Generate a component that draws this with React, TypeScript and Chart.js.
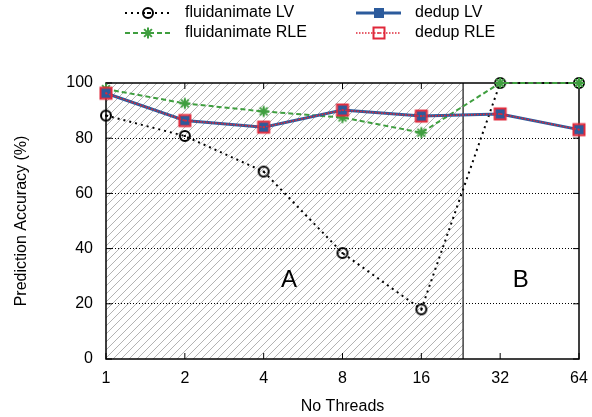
import React, { useEffect, useRef } from 'react';
import { Chart, registerables } from 'chart.js';

Chart.register(...registerables);

const threadCounts = ['1', '2', '4', '8', '16', '32', '64'];
const fluidanimateLV = [88.2, 80.8, 67.9, 38.4, 18.0, 100, 100];
const fluidanimateRLE = [97.8, 92.6, 89.7, 87.5, 82.0, 100, 100];
const dedupLV = [96.3, 86.4, 84.0, 90.2, 88.0, 88.8, 83.1];
const dedupRLE = [96.3, 86.4, 84.0, 90.2, 88.0, 88.8, 83.1];
const seriesNames = ['fluidanimate LV', 'fluidanimate RLE', 'dedup LV', 'dedup RLE'];
const yTickValues = [0, 20, 40, 60, 80, 100];
const regionSplitIndex = 4.53;
const regionNames = ['A', 'B'];
const regionLabelIndex = [2.32, 5.26];
const regionLabelValue = 28.5;
const xTitle = 'No Threads';
const yTitle = 'Prediction Accuracy (%)';

const FONT = "'Liberation Sans', Arial, Helvetica, sans-serif";
const BLACK = '#000000';
const GREEN = '#3f9e3f';
const BLUE = '#2c5b9c';
const RED = '#e0283a';

function makeMarker(size: number, draw: (c: CanvasRenderingContext2D, m: number) => void) {
  const cv = document.createElement('canvas');
  cv.width = size;
  cv.height = size;
  const c = cv.getContext('2d')!;
  draw(c, size / 2);
  return cv;
}

export default function App() {
  const ref = useRef<HTMLCanvasElement | null>(null);

  useEffect(() => {
    document.body.style.margin = '0';
    const canvas = ref.current;
    if (!canvas) return;

    const circleDot = makeMarker(14, (c, m) => {
      c.strokeStyle = BLACK;
      c.lineWidth = 2;
      c.beginPath();
      c.arc(m, m, 5, 0, Math.PI * 2);
      c.stroke();
      c.fillStyle = BLACK;
      c.fillRect(m - 1, m - 1, 2, 2);
    });
    const star = makeMarker(14, (c, m) => {
      c.strokeStyle = GREEN;
      c.lineWidth = 2;
      const r = 5.5;
      const d = r * Math.SQRT1_2;
      c.beginPath();
      c.moveTo(m - r, m); c.lineTo(m + r, m);
      c.moveTo(m, m - r); c.lineTo(m, m + r);
      c.moveTo(m - d, m - d); c.lineTo(m + d, m + d);
      c.moveTo(m - d, m + d); c.lineTo(m + d, m - d);
      c.stroke();
    });
    const blueSquare = makeMarker(12, (c) => {
      c.fillStyle = BLUE;
      c.fillRect(1, 1, 10, 10);
    });
    const redSquare = makeMarker(16, (c, m) => {
      c.strokeStyle = RED;
      c.lineWidth = 2;
      c.strokeRect(2.5, 2.5, 11, 11);
      c.fillStyle = RED;
      c.fillRect(m - 1, m - 0.75, 2, 1.5);
    });
    const markers = [circleDot, star, blueSquare, redSquare];

    const hatchPattern = (ctx: CanvasRenderingContext2D) => {
      const t = document.createElement('canvas');
      const s = 8;
      t.width = s;
      t.height = s;
      const c = t.getContext('2d')!;
      c.strokeStyle = '#a0a0a0';
      c.lineWidth = 0.8;
      c.beginPath();
      c.moveTo(-1, s + 1); c.lineTo(s + 1, -1);
      c.moveTo(-1, 1); c.lineTo(1, -1);
      c.moveTo(s - 1, s + 1); c.lineTo(s + 1, s - 1);
      c.stroke();
      return ctx.createPattern(t, 'repeat');
    };

    const regionPlugin = {
      id: 'regions',
      beforeDraw(chart: any) {
        const { ctx, chartArea } = chart;
        const xs = chart.scales.x;
        const split = xs.getPixelForValue(regionSplitIndex);
        ctx.save();
        ctx.fillStyle = hatchPattern(ctx) as any;
        ctx.fillRect(chartArea.left, chartArea.top, split - chartArea.left, chartArea.bottom - chartArea.top);
        ctx.restore();
      },
      beforeDatasetsDraw(chart: any) {
        const { ctx, chartArea } = chart;
        const xs = chart.scales.x;
        const ys = chart.scales.y;
        const { left, right, top, bottom } = chartArea;
        const split = xs.getPixelForValue(regionSplitIndex);
        ctx.save();
        ctx.strokeStyle = '#404040';
        ctx.lineWidth = 1.5;
        ctx.beginPath();
        ctx.moveTo(split, top);
        ctx.lineTo(split, bottom);
        ctx.stroke();
        ctx.strokeStyle = BLACK;
        ctx.lineWidth = 1.5;
        ctx.strokeRect(left, top, right - left, bottom - top);
        ctx.lineWidth = 1;
        ctx.beginPath();
        const tl = 6;
        for (let i = 0; i < threadCounts.length; i++) {
          const px = xs.getPixelForValue(i);
          ctx.moveTo(px, bottom); ctx.lineTo(px, bottom - tl);
          ctx.moveTo(px, top); ctx.lineTo(px, top + tl);
        }
        for (const v of yTickValues) {
          const py = ys.getPixelForValue(v);
          ctx.moveTo(left, py); ctx.lineTo(left + tl, py);
          ctx.moveTo(right, py); ctx.lineTo(right - tl, py);
        }
        ctx.stroke();
        ctx.fillStyle = BLACK;
        ctx.font = `24px ${FONT}`;
        ctx.textAlign = 'center';
        ctx.textBaseline = 'middle';
        const ly = ys.getPixelForValue(regionLabelValue);
        regionNames.forEach((n, i) => ctx.fillText(n, xs.getPixelForValue(regionLabelIndex[i]), ly));
        ctx.restore();
      },
      afterDraw(chart: any) {
        const { ctx } = chart;
        const slots = [
          { x0: 125, x1: 170, tx: 185, y: 13 },
          { x0: 125, x1: 170, tx: 185, y: 33 },
          { x0: 356, x1: 401, tx: 415, y: 13 },
          { x0: 356, x1: 401, tx: 415, y: 33 },
        ];
        ctx.save();
        chart.data.datasets.forEach((ds: any, i: number) => {
          const s = slots[i];
          ctx.strokeStyle = ds.borderColor;
          ctx.lineWidth = ds.borderWidth;
          ctx.setLineDash(ds.borderDash || []);
          ctx.beginPath();
          ctx.moveTo(s.x0, s.y);
          ctx.lineTo(s.x1, s.y);
          ctx.stroke();
          ctx.setLineDash([]);
          const mk = markers[i];
          ctx.drawImage(mk, Math.round((s.x0 + s.x1) / 2 - mk.width / 2), Math.round(s.y - mk.height / 2));
          ctx.fillStyle = BLACK;
          ctx.font = `16px ${FONT}`;
          ctx.textAlign = 'left';
          ctx.textBaseline = 'middle';
          ctx.fillText(ds.label, s.tx, s.y);
        });
        ctx.restore();
      },
    };

    const chart = new Chart(canvas, {
      type: 'line',
      data: {
        labels: threadCounts,
        datasets: [
          {
            label: seriesNames[0], data: fluidanimateLV, borderColor: BLACK, borderWidth: 2,
            borderDash: [2, 4], pointStyle: circleDot, order: 4, clip: false, tension: 0,
          },
          {
            label: seriesNames[1], data: fluidanimateRLE, borderColor: GREEN, borderWidth: 2,
            borderDash: [5, 3], pointStyle: star, order: 3, clip: false, tension: 0,
          },
          {
            label: seriesNames[2], data: dedupLV, borderColor: BLUE, borderWidth: 3,
            pointStyle: blueSquare, order: 2, clip: false, tension: 0,
          },
          {
            label: seriesNames[3], data: dedupRLE, borderColor: RED, borderWidth: 1.5,
            borderDash: [1.5, 1.5], pointStyle: redSquare, order: 1, clip: false, tension: 0,
          },
        ] as any,
      },
      options: {
        responsive: false,
        animation: false,
        events: [],
        layout: { padding: { top: 83, right: 13, left: 0, bottom: 0 } },
        plugins: { legend: { display: false }, tooltip: { enabled: false } },
        scales: {
          x: {
            type: 'category',
            offset: false,
            grid: { display: false, drawTicks: false },
            border: { display: false },
            ticks: { color: BLACK, font: { family: FONT, size: 16 }, padding: 10, autoSkip: false, maxRotation: 0 },
            title: { display: true, text: xTitle, color: BLACK, font: { family: FONT, size: 16 }, padding: { top: 0, bottom: 1 } },
            afterFit: (scale: any) => {
              scale.height = 58;
              scale.paddingLeft = 0;
              scale.paddingRight = 0;
            },
          },
          y: {
            min: 0,
            max: 100,
            afterBuildTicks: (scale: any) => { scale.ticks = yTickValues.map((v) => ({ value: v })); },
            grid: {
              drawTicks: false,
              lineWidth: 1,
              color: (c: any) => (c.tick && (c.tick.value === 0 || c.tick.value === 100) ? 'rgba(0,0,0,0)' : '#000000'),
            },
            border: { display: false, dash: [1, 2] },
            ticks: { color: BLACK, font: { family: FONT, size: 16 }, padding: 13 },
            title: { display: true, text: yTitle, color: BLACK, font: { family: FONT, size: 16 }, padding: { top: 12, bottom: 0 } },
            afterFit: (scale: any) => {
              scale.width = 106;
              scale.paddingTop = 0;
              scale.paddingBottom = 0;
            },
          },
        },
      } as any,
      plugins: [regionPlugin],
    });

    return () => chart.destroy();
  }, []);

  return (
    <div style={{ width: 592, height: 417 }}>
      <canvas ref={ref} width={592} height={417} />
    </div>
  );
}
